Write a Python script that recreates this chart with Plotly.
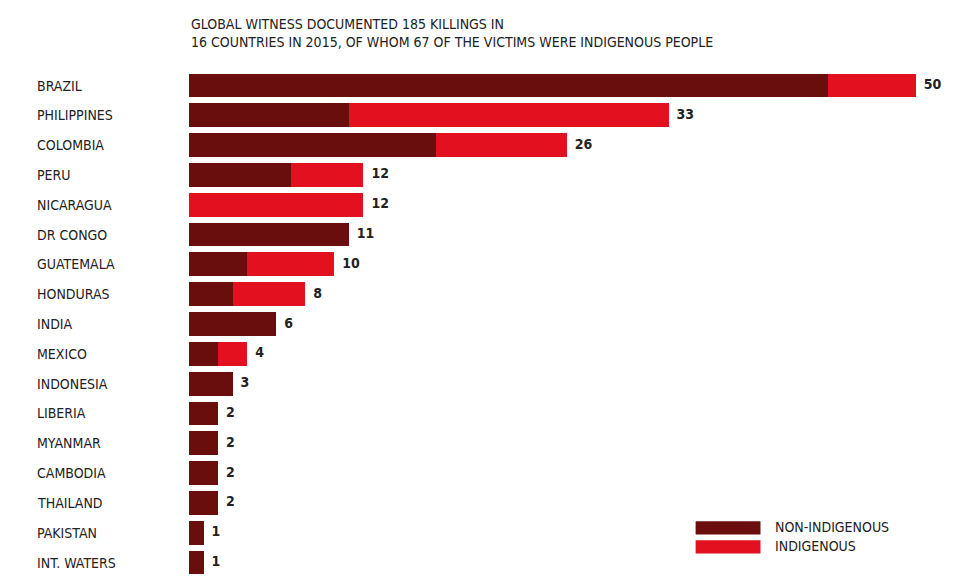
import plotly.graph_objects as go

countries = ["BRAZIL", "PHILIPPINES", "COLOMBIA", "PERU", "NICARAGUA", "DR CONGO",
             "GUATEMALA", "HONDURAS", "INDIA", "MEXICO", "INDONESIA", "LIBERIA",
             "MYANMAR", "CAMBODIA", "THAILAND", "PAKISTAN", "INT. WATERS"]
non_indigenous = [44, 11, 17, 7, 0, 11, 4, 3, 6, 2, 3, 2, 2, 2, 2, 1, 1]
indigenous = [6, 22, 9, 5, 12, 0, 6, 5, 0, 2, 0, 0, 0, 0, 0, 0, 0]
totals = [a + b for a, b in zip(non_indigenous, indigenous)]

DARK = "#6a0d0d"
RED = "#e3111f"
FONT = "DejaVu Sans Condensed, sans-serif"

W, H = 980, 582
L, R, T, B = 181, 36, 51, 1
pw = W - L - R
ph = H - T - B

fig = go.Figure()
fig.add_trace(go.Bar(y=countries, x=non_indigenous, orientation="h",
                     marker=dict(color=DARK, line=dict(width=0)), showlegend=False))
fig.add_trace(go.Bar(y=countries, x=indigenous, orientation="h",
                     marker=dict(color=RED, line=dict(width=0)), showlegend=False))
fig.add_trace(go.Scatter(y=countries, x=totals, mode="text", text=["  <b>%d</b>" % t for t in totals],
                         textposition="middle right", cliponaxis=False,
                         textfont=dict(family=FONT, size=14, color="#222"),
                         showlegend=False, hoverinfo="skip"))

for c in countries:
    fig.add_annotation(x=-(L - 27) / pw, xref="paper", y=c, yref="y", text=c,
                       showarrow=False, xanchor="left",
                       font=dict(family=FONT, size=14, color="#222"))

fig.add_annotation(x=0, xref="paper", y=1 + (T - 6) / ph, yref="paper",
                   yanchor="top", xanchor="left", align="left", showarrow=False,
                   text="GLOBAL WITNESS DOCUMENTED 185 KILLINGS IN<br>16 COUNTRIES IN 2015, OF WHOM 67 OF THE VICTIMS WERE INDIGENOUS PEOPLE",
                   font=dict(family=FONT, size=14, color="#222"))

# legend
for i, (lab, col) in enumerate([("NON-INDIGENOUS", DARK), ("INDIGENOUS", RED)]):
    ytop = 0.128 - i * 0.036
    fig.add_shape(type="rect", xref="paper", yref="paper",
                  x0=0.664, x1=0.749, y0=ytop - 0.025, y1=ytop,
                  fillcolor=col, line=dict(width=0))
    fig.add_annotation(x=0.766, xref="paper", y=ytop - 0.029, yref="paper",
                       text=lab, showarrow=False, xanchor="left",
                       font=dict(family=FONT, size=14, color="#222"))

fig.update_layout(barmode="stack", bargap=0.2, width=W, height=H,
                  margin=dict(l=L, r=R, t=T, b=B, autoexpand=False),
                  paper_bgcolor="white", plot_bgcolor="white")
fig.update_xaxes(range=[0, 52.5], visible=False)
fig.update_yaxes(autorange="reversed", visible=False)
fig.write_html("out.html")
